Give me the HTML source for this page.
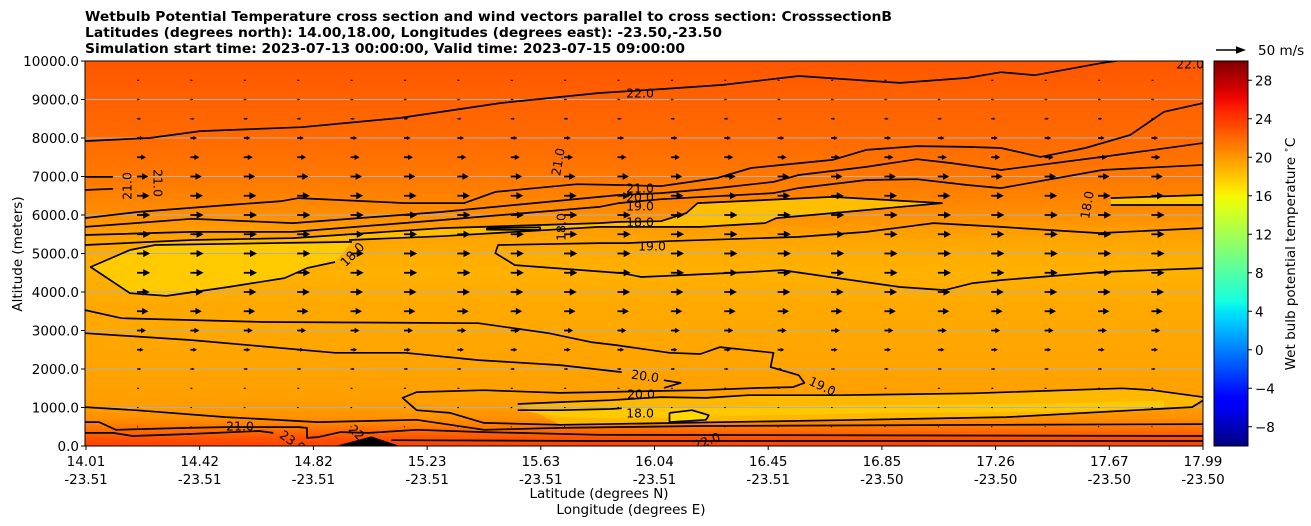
<!DOCTYPE html>
<html><head><meta charset="utf-8"><style>
html,body{margin:0;padding:0;background:#fff;}
svg{display:block;font-family:"DejaVu Sans","Liberation Sans",sans-serif;}
</style></head><body>
<svg id="chart" width="1311" height="526" viewBox="0 0 1311 526" xmlns="http://www.w3.org/2000/svg">
<defs>
<linearGradient id="bgGrad" gradientUnits="userSpaceOnUse" x1="0" y1="446" x2="0" y2="61"></linearGradient>
<linearGradient id="cbGrad" x1="0" y1="1" x2="0" y2="0"></linearGradient>
<clipPath id="plotClip"><rect x="85" y="61" width="1118" height="385"/></clipPath>
</defs>
<g font-weight="bold" font-size="13" fill="#000">
<text x="85" y="21" textLength="807" lengthAdjust="spacingAndGlyphs">Wetbulb Potential Temperature cross section and wind vectors parallel to cross section: CrosssectionB</text>
<text x="85" y="37" textLength="637" lengthAdjust="spacingAndGlyphs">Latitudes (degrees north): 14.00,18.00, Longitudes (degrees east): -23.50,-23.50</text>
<text x="85" y="53" textLength="600" lengthAdjust="spacingAndGlyphs">Simulation start time: 2023-07-13 00:00:00, Valid time: 2023-07-15 09:00:00</text>
</g>
<g id="plot" clip-path="url(#plotClip)"></g>
<rect x="85" y="61" width="1118" height="385" fill="none" stroke="#000" stroke-width="1"/>
<g id="axes" font-size="13.5" fill="#000"></g>
<text transform="translate(22,254) rotate(-90)" text-anchor="middle" font-size="13.5">Altitude (meters)</text>
<text x="599" y="498" text-anchor="middle" font-size="13.5">Latitude (degrees N)</text>
<text x="631" y="514" text-anchor="middle" font-size="13.5">Longitude (degrees E)</text>
<g id="cbar"></g>
<text transform="translate(1295,254) rotate(-90)" text-anchor="middle" font-size="13.5">Wet bulb potential temperature <tspan font-size="9" dy="-6">∘</tspan><tspan dy="6">C</tspan></text>
<g>
<path d="M1216,49.3 L1236,49.3 L1236,46.3 L1246,50 L1236,53.7 L1236,50.7 L1216,50.7 Z" fill="#000"/>
<text x="1258" y="55" font-size="13.5">50 m/s</text>
</g>
</svg>
<script>
// ---- data ----
const latTicks = [14.01,14.42,14.82,15.23,15.63,16.04,16.45,16.85,17.26,17.67,17.99];
const lonTicks = ["-23.51","-23.51","-23.51","-23.51","-23.51","-23.51","-23.51","-23.50","-23.50","-23.50","-23.50"];
const altTicks = [0,1000,2000,3000,4000,5000,6000,7000,8000,9000,10000];
const cbTicks = [-8,-4,0,4,8,12,16,20,24,28];
const profileAlt = [0,150,300,500,700,900,1200,1500,2000,2500,3000,3500,4000,4500,5000,5500,6000,6500,7000,7500,8000,8500,9000,9500,10000];
const profileTemp = [23.6,23.2,22.4,21.3,20.4,19.9,19.7,19.6,19.5,19.4,19.3,19.3,19.1,18.9,19.1,19.6,20.4,20.9,21.3,21.6,21.9,22.1,22.3,22.5,22.7];
const windLevels = [500,1000,1500,2000,2500,3000,3500,4000,4500,5000,5500,6000,6500,7000,7500,8000,8500,9000,9500];
const windSpeed = [2,3,4,7,11,15,19,21,22,22,22,22,21,19,15,11,7,5,4];
const windLat0 = 14.195, windLatStep = 0.19, windCols = 21;

const c22Lat = [14.01,14.24,14.42,14.78,15.13,15.49,15.84,16.06,16.28,16.55,16.91,17.15,17.27,17.39,17.63,17.68];
const c22Alt = [7920,8000,8180,8280,8520,8910,9170,9270,9380,9610,9430,9560,9710,9630,9950,10000];
const c21Lat = [14.01,14.20,14.52,14.71,14.77,15.15,15.36,15.47,15.76,15.91,16.06,16.26,16.38,16.67,16.79,16.97,17.15,17.27,17.41,17.57,17.73,17.85,17.99];
const c21Alt = [5920,6080,6260,6360,6440,6310,6310,6600,6800,6780,6750,6960,7220,7430,7690,7790,7770,7740,7510,7740,8080,8680,8910];
const c20Lat = [14.01,14.39,14.75,15.28,15.84,15.91,16.06,16.26,16.46,16.55,16.79,16.97,17.09,17.27,17.63,17.99];
const c20Alt = [5690,5900,5790,6080,6470,6520,6570,6700,6860,7040,7250,7450,7350,7170,7510,7870];
const c19Lat = [14.01,14.39,14.75,15.28,15.84,15.91,16.06,16.46,16.55,16.79,16.97,17.15,17.27,17.63,17.99];
const c19Alt = [5480,5560,5560,5870,6210,6310,6410,6570,6700,6910,6930,6780,6700,7170,7300];
const c18Lat = [14.01,14.39,14.75,15.28,15.84,15.91,16.06,16.15,16.19,16.67,17.06,16.67,16.47,16.43,16.20,15.84,15.28,14.95];
const c18Alt = [5220,5350,5400,5660,5790,5820,5840,6050,6310,6470,6310,6050,5920,5790,5690,5690,5450,5350];
const cBlobLat = [14.90,14.80,14.72,14.52,14.30,14.17,14.03,14.17,14.26,14.96];
const cBlobAlt = [4780,4620,4360,4130,3900,3970,4650,5090,5220,5300];
const c19bLat = [17.99,17.62,17.44,17.27,17.15,17.03,16.79,16.55,16.08,15.94,15.84,15.48,15.47,15.54,15.92,15.99,16.38,16.49,16.91,17.07,17.17,17.27,17.63,17.99];
const c19bAlt = [5660,5530,5610,5690,5740,5790,5560,5430,5320,5270,5270,5220,5010,4700,4490,4390,4520,4570,4130,4050,4230,4310,4520,4620];
const c20bLat = [14.01,14.14,14.65,15.41,15.66,15.81,15.90,16.09,16.20,16.27,16.46,16.45,16.55,16.57,16.53,16.41,16.20,16.06,15.84,15.70,15.43,15.19,15.14,15.19,15.31,15.43,15.70,16.12,16.77,17.29,17.95,17.99];
const c20bAlt = [3530,3320,3220,3190,2930,2700,2620,2420,2390,2570,2420,2050,1840,1640,1530,1510,1450,1430,1400,1380,1450,1400,1250,930,860,600,550,600,680,750,1010,1190];
const c20cLat = [14.01,14.39,14.90,15.15,15.41,15.70,15.92];
const c20cAlt = [2930,2750,2420,2420,2230,2100,1920];
const c19cLat = [15.55,15.70,15.88,16.06,16.22,16.37,16.70,17.17,17.70,17.81,17.94,17.99];
const c19cAlt = [1090,1140,1190,1270,1250,1320,1320,1370,1500,1450,1320,1270];
const c18bLat = [15.55,15.70,15.88,15.92];
const c18bAlt = [930,930,960,980];
const c17Lat = [16.09,16.17,16.23,16.22,16.09,16.09];
const c17Alt = [860,930,800,680,620,860];
const c21bLat = [14.01,14.19,14.51,14.84,15.19,15.43,15.70,16.20,17.27,17.99];
const c21bAlt = [1010,930,750,620,680,420,470,520,550,570];
const c22bLat = [14.01,14.06,14.12,14.37,14.51,14.63,14.77,14.80,14.80,14.84,14.92,15.02,15.19,15.43,15.84,17.99];
const c22bAlt = [620,620,420,470,490,490,490,470,210,230,360,340,420,360,290,260];
const c23Lat = [14.01,14.11,14.18,14.37,14.63,14.68];
const c23Alt = [340,340,260,310,390,340];
const c23bLat = [15.10,15.84,17.99];
const c23bAlt = [150,130,130];
const c21sLat = [14.01,14.11], c21sAlt = [6990,6990];
const c21tLat = [14.01,14.11], c21tAlt = [6650,6680];
const cLoopLat = [15.44,15.63,15.63,15.44,15.44];
const cLoopAlt = [5660,5680,5610,5620,5660];
const cPairALat = [17.66,17.99], cPairAAlt = [6440,6520];
const cPairBLat = [17.66,17.99], cPairBAlt = [6260,6260];
const cArrowLat = [16.07,16.13,16.07], cArrowAlt = [1710,1640,1510];
const terrainLat = [14.90,15.03,15.13], terrainAlt = [0,250,0];
const band18Lat = [15.55,15.70,15.90,16.30,16.90,17.50,17.85,17.85,17.50,16.90,16.30,15.90,15.70];
const band18Alt = [930,950,990,1020,1060,1110,1180,1000,900,860,780,720,760];

// ---- scales ----
const X = lat => 85 + (lat - 14.01) * 281;
const Y = alt => 446 - alt * 0.0385;
const CB = t => 446 - (t + 10) / 40 * 385;
function jet(v){
  const seg = (pts) => { for (let i=1;i<pts.length;i++){ if (v<=pts[i][0]){ const a=pts[i-1],b=pts[i]; return a[1]+(b[1]-a[1])*(v-a[0])/(b[0]-a[0]); } } return pts[pts.length-1][1]; };
  const r=seg([[0,0],[0.35,0],[0.66,1],[0.89,1],[1,0.5]]);
  const g=seg([[0,0],[0.125,0],[0.375,1],[0.64,1],[0.91,0],[1,0]]);
  const b=seg([[0,0.5],[0.11,1],[0.34,1],[0.65,0],[1,0]]);
  return `rgb(${Math.round(r*255)},${Math.round(g*255)},${Math.round(b*255)})`;
}
const tc = t => jet(Math.max(0,Math.min(1,(t+10)/40)));
const NS = "http://www.w3.org/2000/svg";
function mk(tag, attrs, parent){ const e=document.createElementNS(NS,tag); for(const k in attrs) e.setAttribute(k,attrs[k]); parent.appendChild(e); return e; }
const plot = document.getElementById('plot');
const axes = document.getElementById('axes');

const bg = document.getElementById('bgGrad');
profileAlt.forEach((a,i)=>{ mk('stop',{offset:(a/10000).toFixed(3),'stop-color':tc(profileTemp[i])},bg); });
let r = mk('rect',{x:85,y:61,width:1118,height:385,fill:'url(#bgGrad)'},plot);



function pathD(lats, alts, close){ let d=lats.map((l,i)=>(i?'L':'M')+X(l).toFixed(1)+','+Y(alts[i]).toFixed(1)).join(' '); return close? d+' Z': d; }
function fillRegion(lats, alts, t, name){
  const e = mk('path',{d:pathD(lats,alts,true),fill:tc(t),stroke:'none'},plot);
  
  
}
fillRegion(c18Lat, c18Alt, 18.3, 'fill-18-tongue');
fillRegion(cBlobLat, cBlobAlt, 17.8, 'fill-18-blob-left');
fillRegion(c19cLat.concat([17.95,17.29,16.77,16.12,15.70]), c19cAlt.concat([1010,750,680,600,560]), 18.6, 'fill-19-lower-band');
fillRegion(band18Lat, band18Alt, 17.9, 'fill-18-lower');
fillRegion(c17Lat, c17Alt, 17.2, 'fill-17-loop');
fillRegion(cPairALat.concat([17.99,17.66]), cPairAAlt.concat([6260,6260]), 18.0, 'fill-18-right');

altTicks.forEach(a=>{
  if (a===0 || a===10000) return;
  const g = mk('line',{x1:85,x2:1203,y1:Y(a),y2:Y(a),stroke:'#b0b0b0','stroke-width':1},plot);
  
  
});

windLevels.forEach((lev,li)=>{
  for (let k=0;k<windCols;k++){
    const lat = windLat0 + k*windLatStep;
    const x0 = X(lat), y0 = Y(lev);
    const L = windSpeed[li]*0.6;
    const hl = Math.min(7, L*0.55), hw = Math.min(3.6, Math.max(0.9,L*0.3)), w = Math.min(0.9, L*0.08+0.35);
    const s = L-hl;
    const d = `M${x0},${y0-w} L${x0+s},${y0-w} L${x0+s},${y0-hw} L${x0+L},${y0} L${x0+s},${y0+hw} L${x0+s},${y0+w} L${x0},${y0+w} Z`;
    const a = mk('path',{d:d,fill:'#000'},plot);
    
    
  }
});

const lines = [
 [c22Lat,c22Alt,'contour-22'],[c21Lat,c21Alt,'contour-21-upper'],[c20Lat,c20Alt,'contour-20-upper'],
 [c19Lat,c19Alt,'contour-19-upper'],[c18Lat,c18Alt,'contour-18-tongue'],[cBlobLat,cBlobAlt,'contour-18-blob'],
 [c19bLat,c19bAlt,'contour-19-mid'],[c20bLat,c20bAlt,'contour-20-mid'],[c20cLat,c20cAlt,'contour-20-low'],
 [c19cLat,c19cAlt,'contour-19-low'],[c18bLat,c18bAlt,'contour-18-low'],[c17Lat,c17Alt,'contour-17-loop'],
 [c21bLat,c21bAlt,'contour-21-low'],[c22bLat,c22bAlt,'contour-22-low'],[c23Lat,c23Alt,'contour-23-low'],
 [c23bLat,c23bAlt,'contour-23-ground'],[c21sLat,c21sAlt,'contour-21-short-a'],[c21tLat,c21tAlt,'contour-21-short-b'],
 [cLoopLat,cLoopAlt,'contour-18-small-loop'],[cPairALat,cPairAAlt,'contour-18-right-a'],[cPairBLat,cPairBAlt,'contour-18-right-b'],
 [cArrowLat,cArrowAlt,'contour-20-chevron']
];
lines.forEach(([la,al,nm])=>{
  const p = mk('path',{d:pathD(la,al,false),fill:'none',stroke:'#000','stroke-width':1.7,'stroke-linejoin':'round'},plot);
  
  
});
const ter = mk('path',{d:pathD(terrainLat,terrainAlt,true),fill:'#000'},plot);



const clabels = [["22.0",640,94,0],["22.0",1190,65,0],["21.0",128,186,-90],["21.0",157,183,90],["21.0",559,162,-80],
 ["21.0",640,189,0],["20.0",640,198,0],["19.0",640,207,0],["18.0",640,223,0],["19.0",652,247,0],["18.0",353,255,-45],
 ["18.0",562,227,-90],["18.0",1088,205,-80],["20.0",645,377,8],["20.0",641,395,0],["18.0",640,414,0],["19.0",822,387,25],
 ["21.0",240,427,0],["23.0",292,442,35],["22",356,433,45],["22.0",707,442,-20]];
clabels.forEach(([t,x,y,rot])=>{
  const e = mk('text',{x:x,y:y,'text-anchor':'middle','font-size':12.5,'dominant-baseline':'middle',transform:`rotate(${rot},${x},${y})`},plot);
  e.textContent = t;
  
  
});

altTicks.forEach(a=>{
  const y=Y(a);
  const t = mk('line',{x1:81,x2:85,y1:y,y2:y,stroke:'#000'},axes);
  
  
  const l = mk('text',{x:79,y:y+5,'text-anchor':'end'},axes);
  l.textContent = a.toFixed(1);
  
  
});
latTicks.forEach((lat,i)=>{
  const x = i===latTicks.length-1 ? 1203 : 86 + i*113.7;
  const t = mk('line',{x1:x,x2:x,y1:446,y2:450,stroke:'#000'},axes);
  
  
  const l = mk('text',{x:x,y:466,'text-anchor':'middle'},axes);
  l.textContent = lat.toFixed(2);
  
  
  const l2 = mk('text',{x:x,y:484,'text-anchor':'middle'},axes);
  l2.textContent = lonTicks[i];
  
  
});

const cg = document.getElementById('cbGrad');
for (let i=0;i<=40;i++){ mk('stop',{offset:(i/40).toFixed(3),'stop-color':jet(i/40)},cg); }
const cbar = document.getElementById('cbar');
const cr = mk('rect',{x:1214,y:61,width:34,height:385,fill:'url(#cbGrad)',stroke:'#000','stroke-width':1},cbar);


cbTicks.forEach(v=>{
  const y = CB(v);
  const t = mk('line',{x1:1248,x2:1252,y1:y,y2:y,stroke:'#000'},cbar);
  
  
  const l = mk('text',{x:1255,y:y+5,'font-size':13.5},cbar);
  l.textContent = v<0 ? '\u2212'+Math.abs(v) : String(v);
  
  
});
</script>
</body></html>
